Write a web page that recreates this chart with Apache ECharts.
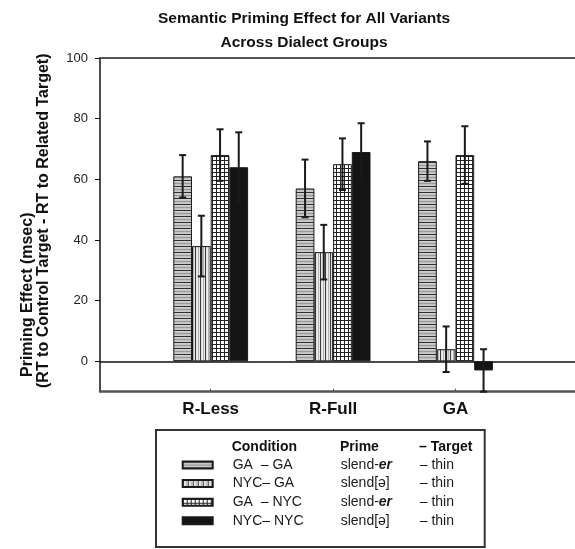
<!DOCTYPE html>
<html><head><meta charset="utf-8">
<script src="https://cdn.jsdelivr.net/npm/echarts@6/dist/echarts.min.js"></script>
<style>html,body{margin:0;padding:0;background:#fff}#c{width:575px;height:549px}</style>
</head><body><div id="c"></div>
<script>
// ---- data ----
const categories = ['R-Less', 'R-Full', 'GA'];
const conditions = ['GA  \u2013 GA', 'NYC\u2013 GA', 'GA  \u2013 NYC', 'NYC\u2013 NYC'];
const primeStems = ['slend-', 'slend[\u0259]', 'slend-', 'slend[\u0259]'];
const primeEndings = ['er', '', 'er', ''];
const targets = ['thin', 'thin', 'thin', 'thin'];
const gaGa = [61, 57, 66];
const gaGaErr = [7, 9.5, 6.5];
const nycGa = [38, 36, 4];
const nycGaErr = [10, 9, 7.5];
const gaNyc = [68, 65, 68];
const gaNycErr = [8.5, 8.5, 9.5];
const nycNyc = [64, 69, -3];
const nycNycErr = [11.5, 9.5, 7];
const yTicks = [0, 20, 40, 60, 80, 100];

// ---- styling ----
const FONT = '"Liberation Sans", Arial, Helvetica, sans-serif';
function makePattern(w, h, draw) {
  const c = document.createElement('canvas');
  c.width = w; c.height = h;
  draw(c.getContext('2d'));
  return { image: c, repeat: 'repeat' };
}
const patH = makePattern(6, 6, g => {
  ['#2e2e2e', '#d0d0d0', '#c4c4c4', '#9a9a9a', '#c0c0c0', '#cccccc'].forEach((col, i) => { g.fillStyle = col; g.fillRect(0, i, 6, 1); });
});
const patV = makePattern(5, 5, g => {
  ['#3a3a3a', '#e4e4e4', '#efefef', '#b0b0b0', '#e8e8e8'].forEach((col, i) => { g.fillStyle = col; g.fillRect(i, 0, 1, 5); });
});
const patGrid = makePattern(4, 4, g => {
  g.fillStyle = '#ffffff'; g.fillRect(0, 0, 4, 4);
  g.fillStyle = '#222222'; g.fillRect(0, 0, 4, 1); g.fillRect(0, 0, 1, 4);
});
const fills = [patH, patV, patGrid, '#141414'];
const values = [gaGa, nycGa, gaNyc, nycNyc];
const errors = [gaGaErr, nycGaErr, gaNycErr, nycNycErr];
const barW = 18.7;

const series = [];
values.forEach((v, i) => {
  series.push({
    name: conditions[i], type: 'bar', xAxisIndex: 2, yAxisIndex: 1,
    data: v, barWidth: barW, barGap: '0%', silent: true, z: 2,
    itemStyle: { color: fills[i], borderColor: '#1a1a1a', borderWidth: 1 }
  });
});
values.forEach((v, i) => {
  series.push({
    type: 'custom', xAxisIndex: 2, yAxisIndex: 1, silent: true, z: 5,
    data: v.map((val, k) => [k, val - errors[i][k], val + errors[i][k]]),
    encode: { x: 0, y: [1, 2] },
    renderItem: (params, api) => {
      const x = api.coord([api.value(0), 0])[0] + (i - 1.5) * barW;
      const yl = api.coord([api.value(0), api.value(1)])[1];
      const yh = api.coord([api.value(0), api.value(2)])[1];
      const st = { stroke: '#1a1a1a', lineWidth: 2 };
      return { type: 'group', children: [
        { type: 'line', shape: { x1: x, y1: yl, x2: x, y2: yh }, style: st },
        { type: 'line', shape: { x1: x - 3.5, y1: yh, x2: x + 3.5, y2: yh }, style: st },
        { type: 'line', shape: { x1: x - 3.5, y1: yl, x2: x + 3.5, y2: yl }, style: st }
      ] };
    }
  });
});
series.push({
  type: 'line', xAxisIndex: 0, yAxisIndex: 0, data: [], silent: true,
  markLine: { silent: true, symbol: ['none', 'none'], label: { show: false },
    lineStyle: { color: '#111', width: 1.5, type: 'solid' }, data: [{ yAxis: 0 }] }
});

const rich = {
  sp: { width: 15, fontSize: 14, lineHeight: 16, fontFamily: FONT },
  c: { width: 108, fontSize: 14, lineHeight: 16, color: '#1a1a1a', fontFamily: FONT },
  p: { width: 38, fontSize: 14, lineHeight: 16, color: '#1a1a1a', fontFamily: FONT },
  pb: { width: 41, fontSize: 14, lineHeight: 16, color: '#1a1a1a', fontWeight: 'bold', fontStyle: 'italic', fontFamily: FONT },
  p2: { width: 79, fontSize: 14, lineHeight: 16, color: '#1a1a1a', fontFamily: FONT },
  t: { width: 39, fontSize: 14, lineHeight: 16, color: '#1a1a1a', fontFamily: FONT }
};

const chart = echarts.init(document.getElementById('c'), null, { renderer: 'canvas' });
chart.setOption({
  animation: false,
  backgroundColor: '#fff',
  title: [
    { text: 'Semantic Priming Effect for All Variants\nAcross Dialect Groups', left: 304, textAlign: 'center', top: 7,
      padding: 0,
      textStyle: { fontSize: 15.5, fontWeight: 'bold', lineHeight: 24, color: '#111', fontFamily: FONT } },
    { text: '{h1|Condition}{h2|Prime}{h3|\u2013 Target}', left: 231.7, top: 438.7, padding: 0,
      textStyle: { rich: {
        h1: { width: 108.3, fontSize: 14, fontWeight: 'bold', lineHeight: 16, color: '#111', fontFamily: FONT },
        h2: { width: 79, fontSize: 14, fontWeight: 'bold', lineHeight: 16, color: '#111', fontFamily: FONT },
        h3: { fontSize: 14, fontWeight: 'bold', lineHeight: 16, color: '#111', fontFamily: FONT }
      } } }
  ],
  grid: [
    { left: 100, right: -10, top: 58, bottom: 157.3, outerBoundsMode: 'none', containLabel: false },
    { left: 149.5, right: -64.1, top: 58, bottom: 157.3, outerBoundsMode: 'none', containLabel: false }
  ],
  xAxis: [
    { gridIndex: 0, type: 'value', min: 0, max: 1, position: 'bottom',
      axisLine: { show: true, onZero: false, lineStyle: { color: '#555', width: 2.5 } },
      axisTick: { show: false }, axisLabel: { show: false }, splitLine: { show: false } },
    { gridIndex: 0, type: 'value', min: 0, max: 1, position: 'top',
      axisLine: { show: true, onZero: false, lineStyle: { color: '#555', width: 2 } },
      axisTick: { show: false }, axisLabel: { show: false }, splitLine: { show: false } },
    { gridIndex: 1, type: 'category', data: categories.concat(['']), position: 'bottom',
      axisLine: { show: false, onZero: false },
      axisTick: { show: true, alignWithLabel: true, inside: true, length: 3,
        interval: (idx, val) => val !== '', lineStyle: { color: '#555' } },
      axisLabel: { interval: 0, fontSize: 17, fontWeight: 'bold', color: '#111', margin: 9, fontFamily: FONT },
      splitLine: { show: false } }
  ],
  yAxis: [
    { gridIndex: 0, type: 'value', min: -10, max: 100, interval: 10,
      axisLine: { show: true, onZero: false, lineStyle: { color: '#111', width: 1.5 } },
      axisTick: { show: true, customValues: yTicks, length: 5, lineStyle: { color: '#111' } },
      axisLabel: { customValues: yTicks, fontSize: 13, color: '#222', margin: 12, fontFamily: FONT },
      splitLine: { show: false } },
    { gridIndex: 1, type: 'value', min: -10, max: 100, interval: 10, show: false, splitLine: { show: false } }
  ],
  legend: {
    data: conditions, orient: 'vertical', left: 156, top: 430, icon: 'rect',
    padding: [28, 26, 19.2, 25.7], itemGap: 4.6, itemWidth: 30, itemHeight: 7,
    borderColor: '#333', borderWidth: 2, selectedMode: false,
    formatter: name => {
      const i = conditions.indexOf(name);
      const prime = primeEndings[i] ? `{p|${primeStems[i]}}{pb|${primeEndings[i]}}` : `{p2|${primeStems[i]}}`;
      return `{sp| }{c|${conditions[i]}}${prime}{t|\u2013 ${targets[i]}}`;
    },
    textStyle: { rich: rich }
  },
  graphic: [
    { type: 'text', x: 20, y: 377, rotation: Math.PI / 2,
      style: { text: 'Priming Effect (msec)', font: 'bold 16px ' + FONT, fill: '#111',
        align: 'left', verticalAlign: 'top' } },
    { type: 'text', x: 36, y: 388, rotation: Math.PI / 2,
      style: { text: '(RT to Control Target - RT to Related Target)', font: 'bold 16px ' + FONT, fill: '#111',
        align: 'left', verticalAlign: 'top' } }
  ],
  series: series
});
</script>
</body></html>
